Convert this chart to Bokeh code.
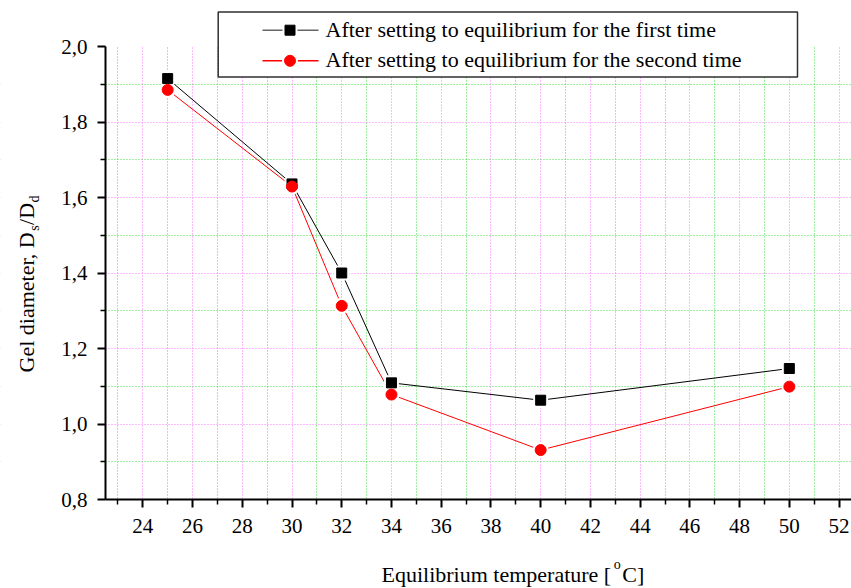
import numpy as np
from bokeh.plotting import figure
from bokeh.models import Range1d, FixedTicker, Label
from bokeh.embed import file_html
from bokeh.resources import INLINE

# ---- data -------------------------------------------------------------
temperature = [25, 30, 32, 34, 40, 50]                       # equilibrium temperature, degC
first_time = [1.915, 1.636, 1.400, 1.109, 1.063, 1.147]      # Ds/Dd, first equilibration
second_time = [1.885, 1.629, 1.313, 1.078, 0.931, 1.099]     # Ds/Dd, second equilibration
series_labels = ["After setting to equilibrium for the first time",
                 "After setting to equilibrium for the second time"]

x_major = [24, 26, 28, 30, 32, 34, 36, 38, 40, 42, 44, 46, 48, 50, 52]
x_minor = [23, 25, 27, 29, 31, 33, 35, 37, 39, 41, 43, 45, 47, 49, 51]
y_major = [0.8, 1.0, 1.2, 1.4, 1.6, 1.8, 2.0]
y_minor = [0.9, 1.1, 1.3, 1.5, 1.7, 1.9]
y_tick_labels = ["0,8", "1,0", "1,2", "1,4", "1,6", "1,8", "2,0"]

# ---- geometry ---------------------------------------------------------
# The plotting frame fills the whole canvas; the axes are pinned to the
# corner of the data area with fixed_location, so titles and the key can be
# drawn anywhere on the page.
W, H = 851, 588
AX_LEFT_PX = 105          # canvas x of the y axis
AX_BOTTOM_PX = 499        # canvas y of the x axis
XA, XB = 22.5, 52.5       # visible temperature span
YA, YB = 0.8, 2.0         # visible diameter-ratio span
SX = (W - AX_LEFT_PX) / (XB - XA)
SY = 377.5
X_START = XA - AX_LEFT_PX / SX
Y_END = YA + AX_BOTTOM_PX / SY
Y_START = YA - (H - AX_BOTTOM_PX) / SY

def px_x(px):
    return X_START + px / SX

def px_y(py):
    return Y_END - py / SY

SERIF = "Liberation Serif"
BASE_SHIFT = 0.36   # label anchor correction for alphabetic baseline, in em
# advance widths (1/1000 em) of Liberation Serif for the characters used in the titles
ADV = {' ': 250, ',': 250, '/': 278, '[': 333, ']': 333, 'C': 667, 'D': 722,
       'E': 611, 'G': 722, 'a': 444, 'b': 500, 'd': 500, 'e': 444, 'i': 278,
       'l': 278, 'm': 778, 'o': 500, 'p': 500, 'q': 500, 'r': 333, 's': 389,
       't': 278, 'u': 500}

def text_w(s, size):
    return sum(ADV.get(c, 500) for c in s) * size / 1000.0

p = figure(width=W, height=H, output_backend="svg", toolbar_location=None,
           title=None, x_range=Range1d(X_START, XB), y_range=Range1d(Y_START, Y_END),
           min_border=0)
p.outline_line_color = None
p.background_fill_color = "white"
p.border_fill_color = "white"

# ---- axes -------------------------------------------------------------
for ax in (p.xaxis[0], p.yaxis[0]):
    ax.axis_line_width = 2
    ax.axis_line_color = "black"
    ax.major_tick_line_width = 2
    ax.minor_tick_line_width = 1.5
    ax.major_tick_line_color = "black"
    ax.minor_tick_line_color = "black"
    ax.major_tick_in = 0
    ax.major_tick_out = 8
    ax.minor_tick_in = 0
    ax.minor_tick_out = 5
    ax.major_label_text_font = SERIF
    ax.major_label_text_font_size = "21px"
    ax.major_label_text_color = "black"

p.xaxis.ticker = FixedTicker(ticks=x_major, minor_ticks=x_minor)
p.xaxis.fixed_location = YA
p.xaxis.bounds = (XA, XB)
p.xaxis.major_label_standoff = 11
p.yaxis.ticker = FixedTicker(ticks=y_major, minor_ticks=y_minor)
p.yaxis.fixed_location = XA
p.yaxis.bounds = (YA, YB)
p.yaxis.major_label_standoff = 10
p.yaxis.major_label_overrides = {v: s for v, s in zip(y_major, y_tick_labels)}

# ---- grid -------------------------------------------------------------
p.xgrid.ticker = FixedTicker(ticks=x_major, minor_ticks=x_minor)
p.ygrid.ticker = FixedTicker(ticks=y_major[1:-1], minor_ticks=y_minor)
for g in (p.xgrid[0], p.ygrid[0]):
    g.grid_line_color = "#ff77ff"
    g.grid_line_dash = "1 2"
    g.grid_line_width = 1
    g.minor_grid_line_color = "#44dd44"
    g.minor_grid_line_dash = "1 2"
    g.minor_grid_line_width = 1

# grid lines stay inside the data area: blank the margins around it
p.quad(left=[X_START, X_START, X_START], right=[XA, XB, XB],
       bottom=[Y_START, Y_START, YB], top=[Y_END, YA, Y_END],
       fill_color="white", line_color=None)

# ---- series -----------------------------------------------------------
p.line(temperature, first_time, line_color="black", line_width=1)
p.line(temperature, second_time, line_color="red", line_width=1)
# white halos leave a small gap between the lines and the symbols
p.scatter(temperature, first_time, marker="square", size=10,
          fill_color="white", line_color="white", line_width=5)
p.scatter(temperature, second_time, marker="circle", size=11,
          fill_color="white", line_color="white", line_width=5)
p.scatter(temperature, first_time, marker="square", size=10,
          fill_color="black", line_color="black", line_width=1)
p.scatter(temperature, second_time, marker="circle", size=11,
          fill_color="red", line_color="red", line_width=1)

# ---- key --------------------------------------------------------------
KEY_L, KEY_R, KEY_T, KEY_B = 217.7, 797.0, 11.5, 76.5
p.quad(left=[px_x(KEY_L)], right=[px_x(KEY_R)], top=[px_y(KEY_T)], bottom=[px_y(KEY_B)],
       fill_color="white", line_color="#303030", line_width=1.5)
row_y = [29.7, 60.3]
row_base = [36.7, 66.7]
styles = [("square", "black", "#666666", 10), ("circle", "red", "red", 11)]
for (mk, col, lcol, sz), ry, rb, lab in zip(styles, row_y, row_base, series_labels):
    p.line([px_x(262), px_x(318)], [px_y(ry), px_y(ry)], line_color=lcol, line_width=1.5)
    p.scatter([px_x(289.5)], [px_y(ry)], marker=mk, size=sz,
              fill_color="white", line_color="white", line_width=5)
    p.scatter([px_x(289.5)], [px_y(ry)], marker=mk, size=sz,
              fill_color=col, line_color=col, line_width=1)
    p.add_layout(Label(x=px_x(325), y=px_y(rb - BASE_SHIFT * 22), text=lab, text_font=SERIF,
                       text_font_size="22px", text_color="black",
                       text_align="left", text_baseline="alphabetic"))

# ---- axis titles ------------------------------------------------------
FT = 22          # title font size
FS = 14          # sub/superscript size

def title_piece(x, y, txt, fs, angle=0.0):
    p.add_layout(Label(x=px_x(x), y=px_y(y), text=txt,
                       text_font=SERIF, text_font_size=f"{fs}px", text_color="black",
                       angle=angle, text_align="left", text_baseline="alphabetic"))

# x title: Equilibrium temperature [°C] with a raised "o"
xt_start, xt_base = 381.0, 582.0
part1 = "Equilibrium temperature ["
title_piece(xt_start, xt_base - BASE_SHIFT * FT, part1, FT)
o_x = xt_start + text_w(part1, FT) + 2.5
title_piece(o_x, xt_base - 13 - BASE_SHIFT * FS, "o", FS)
c_x = o_x + text_w("o", FS) + 1.5
title_piece(c_x, xt_base - BASE_SHIFT * FT, "C]", FT)

# y title: Gel diameter, Ds/Dd (rotated, reading upwards)
yt_base, yt_start = 34.0, 372.0
pieces = [("Gel diameter, D", FT, 0.0), ("s", FS, 5.0), ("/D", FT, 0.0), ("d", FS, 5.0)]
pos = yt_start
for txt, fs, drop in pieces:
    title_piece(yt_base + drop - BASE_SHIFT * fs, pos, txt, fs, angle=np.pi / 2)
    pos -= text_w(txt, fs) + 0.5

open("out.html", "w").write(file_html(p, INLINE))
